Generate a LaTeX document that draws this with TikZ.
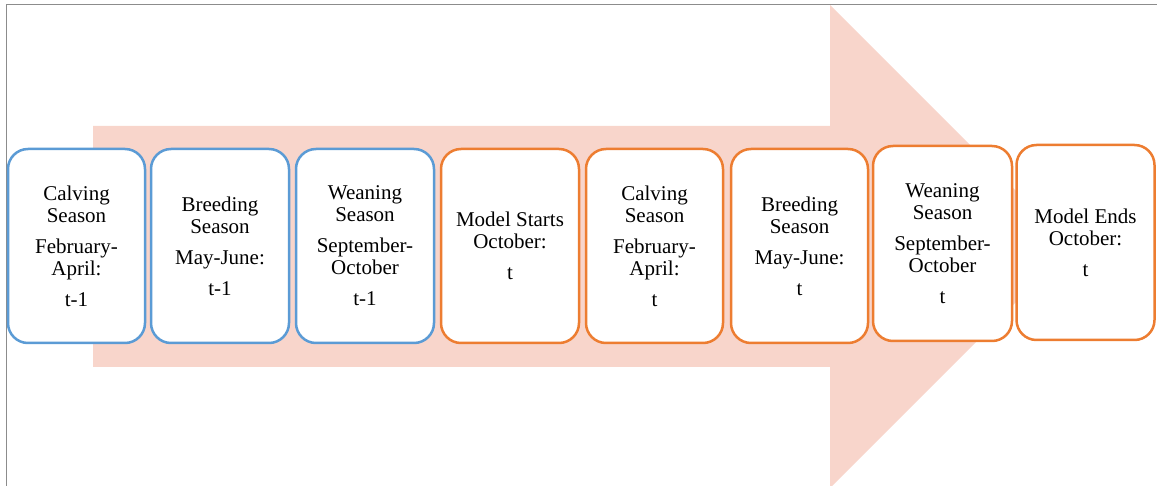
\documentclass[tikz,border=0pt]{standalone}
\usepackage{fontspec}
\setmainfont{Liberation Serif}
\definecolor{boxblue}{HTML}{5B9BD5}
\definecolor{boxorange}{HTML}{ED7D31}
\definecolor{arrowfill}{HTML}{F8D5CB}
\definecolor{framegray}{HTML}{8C8C8C}
\begin{document}
\begin{tikzpicture}[x=1pt,y=-1pt,
  season/.style={draw, line width=2.5pt, rounded corners=20pt, fill=white,
    minimum width=137pt, minimum height=194pt, align=center, inner sep=0pt,
    font=\rmfamily\fontsize{21}{22}\selectfont},
  prev/.style={season, draw=boxblue},
  cur/.style={season, draw=boxorange},
  frame/.style={draw=framegray, line width=1.3pt}]
\useasboundingbox (0,0) rectangle (1157,486);
\draw[frame] (6.5,486) -- (6.5,4.5) -- (1157,4.5);
\fill[arrowfill] (93,126) -- (830,126) -- (830,5) -- (1071.5,246.5)
  -- (830,488) -- (830,367) -- (93,367) -- cycle;
\node[prev] (b1) at (76.5,246) {Calving\\Season\\[9pt]February-\\April:\\[9pt]t-1};
\node[prev, minimum width=138pt] (b2) at (220,246) {Breeding\\Season\\[9pt]May-June:\\[9pt]t-1};
\node[prev, minimum width=138pt] (b3) at (365,246) {Weaning\\Season\\[9pt]September-\\October\\[9pt]t-1};
\node[cur, minimum width=138pt] (b4) at (510,246) {Model Starts\\October:\\[9pt]t};
\node[cur] (b5) at (654.5,246) {Calving\\Season\\[9pt]February-\\April:\\[9pt]t};
\node[cur] (b6) at (799.5,246) {Breeding\\Season\\[9pt]May-June:\\[9pt]t};
\node[cur, minimum width=139pt, minimum height=195pt] (b7) at (942.5,243.5) {Weaning\\Season\\[9pt]September-\\October\\[9pt]t};
\node[cur, minimum width=138pt, minimum height=195pt] (b8) at (1085.5,242.5) {Model Ends\\October:\\[9pt]t};
\end{tikzpicture}
\end{document}
